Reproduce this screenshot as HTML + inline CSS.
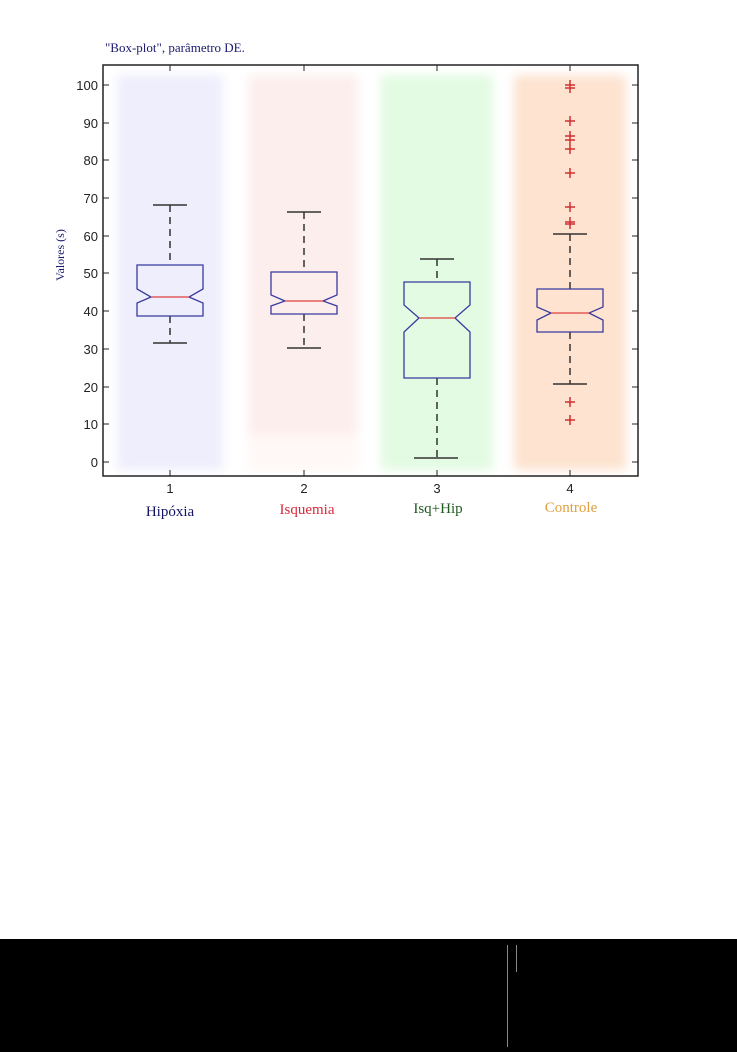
<!DOCTYPE html>
<html><head><meta charset="utf-8"><style>
html,body{margin:0;padding:0;background:#fff;width:737px;height:1052px;overflow:hidden}
</style></head><body>
<svg width="737" height="1052" xmlns="http://www.w3.org/2000/svg">
<defs>
<filter id="b" x="-20%" y="-5%" width="140%" height="110%"><feGaussianBlur stdDeviation="5"/></filter>
</defs>
<rect width="737" height="1052" fill="#fff"/>
<g filter="url(#b)">
<rect x="117" y="75" width="106" height="395" fill="#eeeefd"/>
<rect x="248" y="75" width="110" height="360" fill="#fdeeee"/>
<rect x="248" y="435" width="110" height="35" fill="#fff8f6"/>
<rect x="381" y="75" width="112" height="395" fill="#e2fbe2"/>
<rect x="514" y="75" width="112" height="395" fill="#fde3d0"/>
</g>
<text x="105" y="52" font-family="Liberation Serif, serif" font-size="13" fill="#1a1a6e">"Box-plot", parâmetro DE.</text>
<rect x="103" y="65" width="535" height="411" fill="none" stroke="#222" stroke-width="1.5"/>
<g stroke="#222" stroke-width="1">
<line x1="103" x2="109" y1="85" y2="85"/><line x1="103" x2="109" y1="123" y2="123"/><line x1="103" x2="109" y1="160" y2="160"/><line x1="103" x2="109" y1="198" y2="198"/><line x1="103" x2="109" y1="236" y2="236"/><line x1="103" x2="109" y1="273" y2="273"/><line x1="103" x2="109" y1="311" y2="311"/><line x1="103" x2="109" y1="349" y2="349"/><line x1="103" x2="109" y1="387" y2="387"/><line x1="103" x2="109" y1="424" y2="424"/><line x1="103" x2="109" y1="462" y2="462"/>
<line x1="632" x2="638" y1="85" y2="85"/><line x1="632" x2="638" y1="123" y2="123"/><line x1="632" x2="638" y1="160" y2="160"/><line x1="632" x2="638" y1="198" y2="198"/><line x1="632" x2="638" y1="236" y2="236"/><line x1="632" x2="638" y1="273" y2="273"/><line x1="632" x2="638" y1="311" y2="311"/><line x1="632" x2="638" y1="349" y2="349"/><line x1="632" x2="638" y1="387" y2="387"/><line x1="632" x2="638" y1="424" y2="424"/><line x1="632" x2="638" y1="462" y2="462"/>
<line x1="170" x2="170" y1="65" y2="71"/><line x1="304" x2="304" y1="65" y2="71"/><line x1="437" x2="437" y1="65" y2="71"/><line x1="570" x2="570" y1="65" y2="71"/>
<line x1="170" x2="170" y1="476" y2="470"/><line x1="304" x2="304" y1="476" y2="470"/><line x1="437" x2="437" y1="476" y2="470"/><line x1="570" x2="570" y1="476" y2="470"/>
</g>
<g font-family="Liberation Sans, sans-serif" font-size="13" fill="#222" text-anchor="end">
<text x="98" y="90">100</text><text x="98" y="128">90</text><text x="98" y="165">80</text><text x="98" y="203">70</text><text x="98" y="241">60</text><text x="98" y="278">50</text><text x="98" y="316">40</text><text x="98" y="354">30</text><text x="98" y="392">20</text><text x="98" y="429">10</text><text x="98" y="467">0</text>
</g>
<g font-family="Liberation Sans, sans-serif" font-size="13" fill="#222" text-anchor="middle">
<text x="170" y="493">1</text><text x="304" y="493">2</text><text x="437" y="493">3</text><text x="570" y="493">4</text>
</g>
<text transform="translate(64,255) rotate(-90)" font-family="Liberation Serif, serif" font-size="12" fill="#1a1a6e" text-anchor="middle">Valores (s)</text>
<g font-family="Liberation Serif, serif" font-size="15" text-anchor="middle">
<text x="170" y="516" fill="#141466">Hipóxia</text><text x="307" y="514" fill="#d8283a">Isquemia</text><text x="438" y="513" fill="#1e5a1e">Isq+Hip</text><text x="571" y="512" fill="#e0a040">Controle</text>
</g>
<g stroke="#333" stroke-width="1.5" fill="none">
<path d="M170 205V265M170 316V343" stroke-dasharray="7,5"/><path d="M153 205H187M153 343H187"/>
<path d="M304 212V272M304 314V348" stroke-dasharray="7,5"/><path d="M287 212H321M287 348H321"/>
<path d="M437 259V282M437 378V458" stroke-dasharray="7,5"/><path d="M420 259H454M414 458H458"/>
<path d="M570 234V289M570 332V384" stroke-dasharray="7,5"/><path d="M553 234H587M553 384H587"/>
</g>
<g stroke="#3a3aa0" stroke-width="1.3" fill="none">
<path d="M137 265H203V289L189 297L203 303V316H137V303L151 297L137 289Z"/>
<path d="M271 272H337V295L323 301L337 306V314H271V306L285 301L271 295Z"/>
<path d="M404 282H470V305L455 318L470 332V378H404V332L419 318L404 305Z"/>
<path d="M537 289H603V307L589 313L603 320V332H537V320L551 313L537 307Z"/>
</g>
<g stroke="#e04040" stroke-width="1.2">
<path d="M151 297H189M285 301H323M419 318H455M551 313H589"/>
</g>
<g stroke="#d03030" stroke-width="1.5" font-size="0">
<path d="M565 85h10M570 80v10M565 88h10M570 83v10M565 121h10M570 116v10M565 136h10M570 131v10M565 140h10M570 135v10M565 149h10M570 144v10M565 173h10M570 168v10M565 207h10M570 202v10M565 222h10M570 217v10M565 224h10M570 219v10M565 402h10M570 397v10M565 420h10M570 415v10"/>
</g>
<rect x="0" y="939" width="737" height="113" fill="#000"/>
<line x1="507.5" y1="945" x2="507.5" y2="1047" stroke="#888" stroke-width="1"/>
<line x1="516.5" y1="945" x2="516.5" y2="972" stroke="#888" stroke-width="1"/>
</svg>
</body></html>
